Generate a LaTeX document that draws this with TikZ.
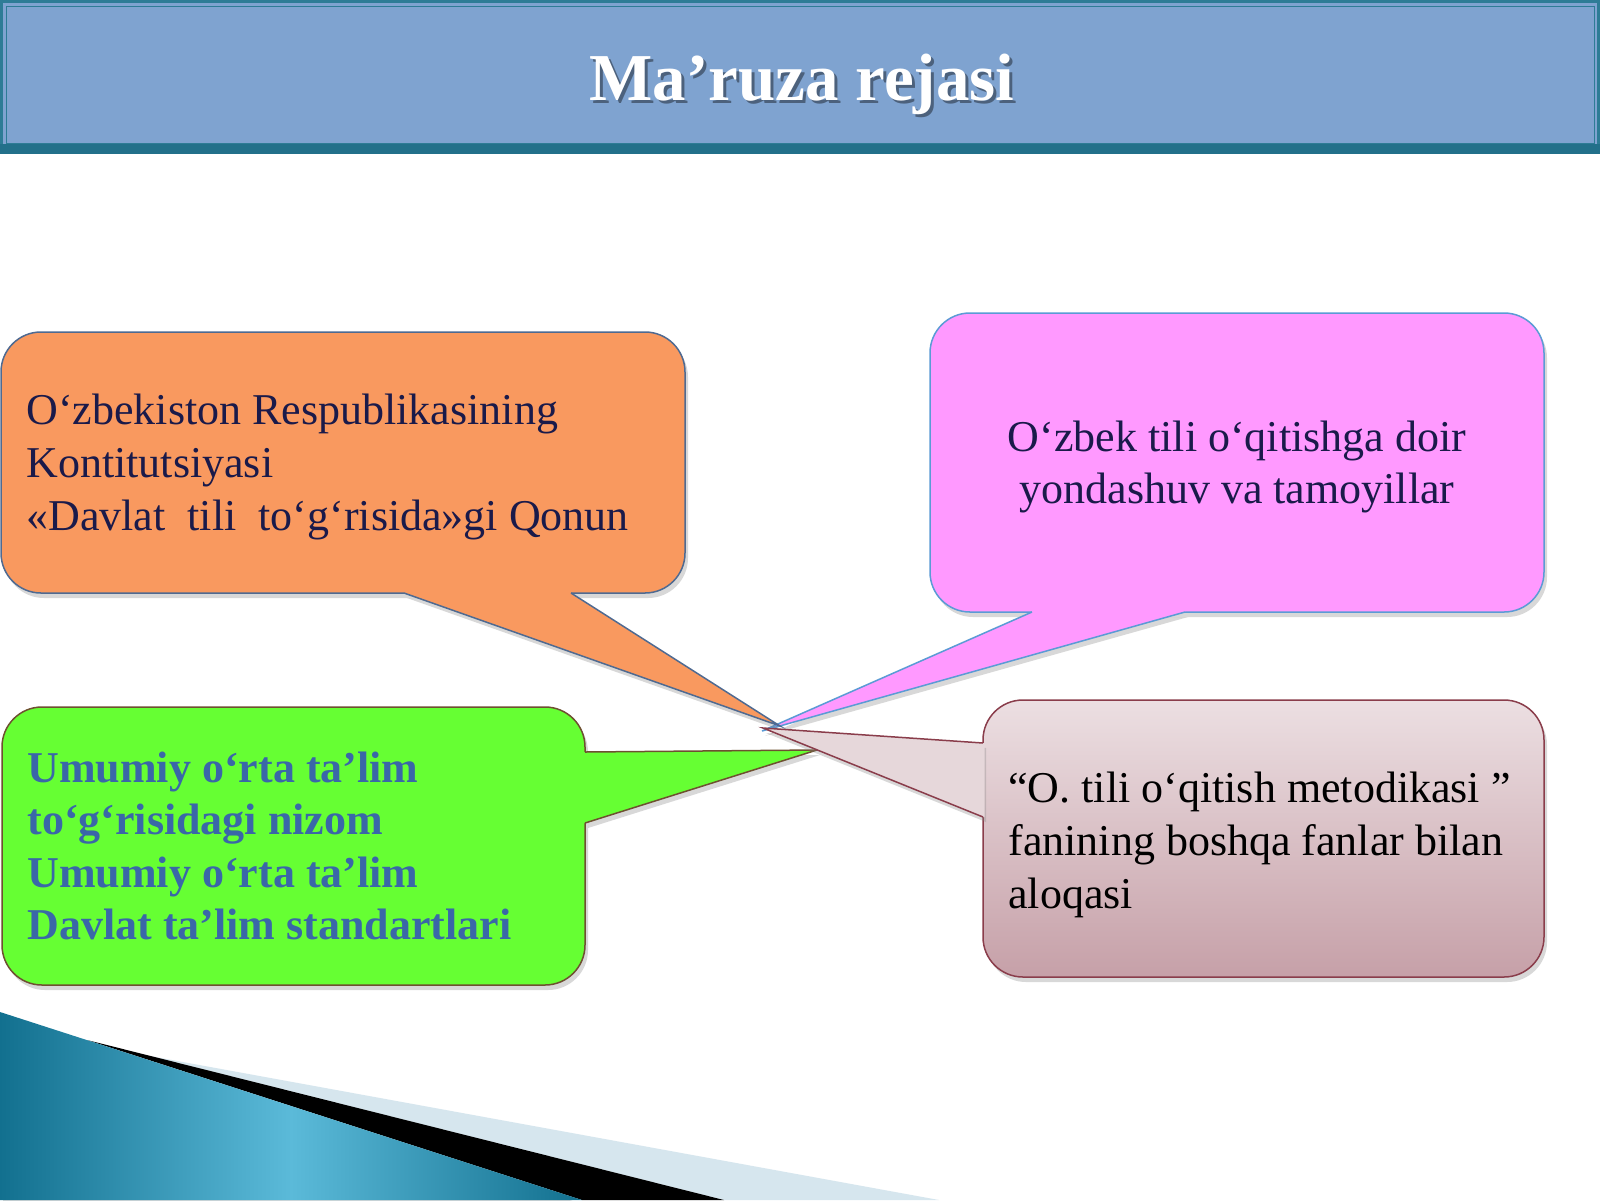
\documentclass[tikz,border=0pt]{standalone}
\usepackage{fontspec}
\setmainfont{Liberation Serif}
\usepackage{xcolor}
\usetikzlibrary{positioning}
\usetikzlibrary{calc}
\usetikzlibrary{shadows}

\definecolor{headfill}{HTML}{7FA3D0}
\definecolor{headline}{HTML}{2E7C96}
\definecolor{headband}{HTML}{22708A}
\definecolor{orfill}{HTML}{F9995F}
\definecolor{orline}{HTML}{4F6A91}
\definecolor{ortext}{HTML}{1A1A4A}
\definecolor{pkfill}{HTML}{FF99FF}
\definecolor{pkline}{HTML}{5B9BD5}
\definecolor{grfill}{HTML}{66FF33}
\definecolor{grline}{HTML}{6E5030}
\definecolor{grtext}{HTML}{3A67A8}
\definecolor{mvtop}{HTML}{ECDFE2}
\definecolor{mvbot}{HTML}{C6A0A8}
\definecolor{mvtail}{HTML}{E6D7DA}
\definecolor{mvline}{HTML}{8A3D4B}
\definecolor{deco}{HTML}{5BBAD9}
\definecolor{decodark}{HTML}{12708F}
\definecolor{decolight}{HTML}{D6E6EE}

\begin{document}
\begin{tikzpicture}[x=0.5pt, y=-0.5pt,
  shade/.style={drop shadow={opacity=0.3, shadow xshift=1.5pt, shadow yshift=-2.5pt}},
  bubble/.style={draw, rounded corners=20pt, line width=0.75pt, inner sep=0pt, outer sep=0pt, anchor=north west, shade},
  tail/.style={line width=0.75pt, line join=miter},
  txt/.style={font=\fontsize{22}{26.3}\selectfont, inner sep=0pt, align=left},
  titletxt/.style={font=\fontsize{33.5}{40}\selectfont\bfseries, inner sep=0pt, anchor=base}
]
\useasboundingbox (0,0) rectangle (1600,1200);
\fill[white] (0,0) rectangle (1600,1200);

% Header
\fill[headfill] (0,0) rectangle (1600,152);
\draw[headline, line width=1.5pt] (1.5,1.5) rectangle (1598.5,151);
\draw[headline, line width=0.5pt] (6,6) rectangle (1594,143);
\fill[headband] (0,144) rectangle (1600,154);
\node[titletxt, text=black, opacity=0.4] at (805,103) {Ma’ruza rejasi};
\node[titletxt, text=white] (title) at (802,100) {Ma’ruza rejasi};

% Pink bubble
\node[bubble, fill=pkfill, draw=pkline, minimum width=307pt, minimum height=149.5pt] (pkbox) at (930,313) {};
\coordinate (pktip) at (762,731);
\coordinate (pka) at ($(pkbox.south west)+(102,0)$);
\coordinate (pkb) at ($(pkbox.south west)+(255,0)$);
\fill[pkfill, shade] (pka) -- (pktip) -- (pkb) -- cycle;
\fill[pkfill] ($(pka)+(0,-1.5)$) -- (pka) -- (pktip) -- (pkb) -- ($(pkb)+(0,-1.5)$) -- cycle;
\draw[tail, pkline] (pka) -- (pktip) -- (pkb);
\node[txt, align=center, text=ortext, yshift=-2.25pt] (pktext) at (pkbox.center) {O‘zbek tili o‘qitishga doir\\yondashuv va tamoyillar};

% Orange bubble
\node[bubble, fill=orfill, draw=orline, minimum width=342pt, minimum height=130.5pt] (orbox) at (1,332) {};
\coordinate (ortip) at (780,726);
\coordinate (ora) at ($(orbox.south west)+(403,0)$);
\coordinate (orb) at ($(orbox.south west)+(570,0)$);
\fill[orfill, shade] (ora) -- (ortip) -- (orb) -- cycle;
\fill[orfill] ($(ora)+(0,-1.5)$) -- (ora) -- (ortip) -- (orb) -- ($(orb)+(0,-1.5)$) -- cycle;
\draw[tail, orline] (ora) -- (ortip) -- (orb);
\node[txt, text=ortext, right=12.5pt of orbox.west, yshift=-2.25pt] (ortext) {O‘zbekiston Respublikasining\\Kontitutsiyasi\\«Davlat~ tili~ to‘g‘risida»gi Qonun};

% Green bubble
\node[bubble, fill=grfill, draw=grline, minimum width=291.5pt, minimum height=139pt] (grbox) at (2,707) {};
\coordinate (grtip) at (817,750);
\coordinate (gra) at ($(grbox.north east)+(0,45)$);
\coordinate (grb) at ($(grbox.north east)+(0,116)$);
\fill[grfill, shade] (gra) -- (grtip) -- (grb) -- cycle;
\fill[grfill] ($(gra)+(-1.5,0)$) -- (gra) -- (grtip) -- (grb) -- ($(grb)+(-1.5,0)$) -- cycle;
\draw[tail, grline] (gra) -- (grtip) -- (grb);
\node[txt, text=grtext, font=\fontsize{22}{26.3}\selectfont\bfseries, right=12.5pt of grbox.west] (grtext) {Umumiy o‘rta ta’lim\\to‘g‘risidagi nizom\\Umumiy o‘rta ta’lim\\Davlat ta’lim standartlari};

% Mauve bubble
\node[bubble, top color=mvtop, bottom color=mvbot, draw=mvline, minimum width=280.5pt, minimum height=138.5pt] (mvbox) at (983,700) {};
\coordinate (mvtip) at (763,728);
\coordinate (mva) at ($(mvbox.north west)+(0,43)$);
\coordinate (mvb) at ($(mvbox.north west)+(0,117)$);
\fill[mvtail, shade] (mva) -- (mvtip) -- (mvb) -- cycle;
\fill[mvtail] ($(mva)+(1.5,0)$) -- (mva) -- (mvtip) -- (mvb) -- ($(mvb)+(1.5,0)$) -- cycle;
\draw[tail, mvline] (mva) -- (mvtip) -- (mvb);
\node[txt, text=black, right=12.5pt of mvbox.west, yshift=-3.25pt] (mvtext) {“O. tili o‘qitish metodikasi ”\\fanining boshqa fanlar bilan\\aloqasi};

% Bottom stripes
\fill[decolight] (150,1056) -- (939,1200) -- (724,1200) -- cycle;
\fill[black] (87,1040) -- (724,1200) -- (582,1200) -- cycle;
\shade[left color=decodark, right color=decodark, middle color=deco] (0,1012) -- (582,1200) -- (0,1200) -- cycle;
\end{tikzpicture}
\end{document}
